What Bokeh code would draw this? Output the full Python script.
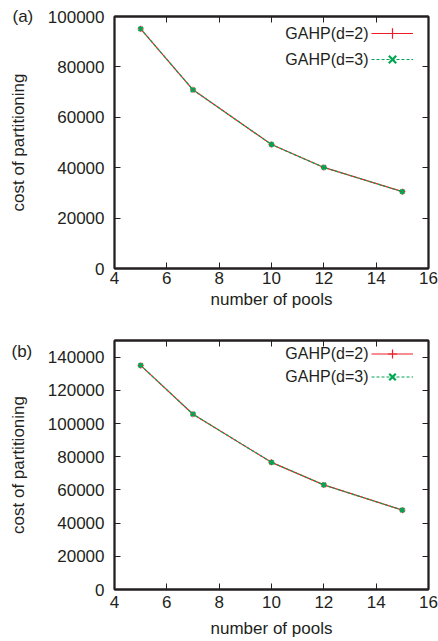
from bokeh.plotting import figure
from bokeh.layouts import column
from bokeh.models import (FixedTicker, NumeralTickFormatter, LinearAxis, Legend,
                          LegendItem, Label, Range1d)
from bokeh.embed import file_html
from bokeh.resources import INLINE

pools = [5, 7, 10, 12, 15]
a_d2 = [95100, 70900, 49200, 40100, 30500]
a_d3 = [95100, 70900, 49200, 40100, 30500]
b_d2 = [135000, 105600, 76600, 63000, 47800]
b_d3 = [135000, 105600, 76600, 63000, 47800]
x_ticks = [4, 6, 8, 10, 12, 14, 16]
a_y_ticks = [0, 20000, 40000, 60000, 80000, 100000]
b_y_ticks = [0, 20000, 40000, 60000, 80000, 100000, 120000, 140000]
series_names = ["GAHP(d=2)", "GAHP(d=3)"]

FONT = "Liberation Sans"
TXT = "#231f20"
RED = "#ee1c25"
GREEN = "#00a651"


def style_axis(ax, ticks, show_labels=True):
    ax.major_tick_in = 6
    ax.major_tick_out = 0
    ax.minor_tick_in = 0
    ax.minor_tick_out = 0
    ax.axis_line_color = "#231f20"
    ax.axis_line_width = 1.8
    ax.major_tick_line_color = "#231f20"
    ax.major_tick_line_width = 1
    ax.major_label_text_font = FONT
    ax.major_label_text_color = TXT
    ax.axis_label_text_font = FONT
    ax.axis_label_text_font_style = "normal"
    ax.axis_label_text_color = TXT
    ax.axis_label_text_font_size = "17px"
    if show_labels:
        ax.major_label_text_font_size = "17px"
    else:
        ax.major_label_text_font_size = "1px"
        ax.major_label_overrides = {t: "" for t in ticks}
        ax.major_label_standoff = 0


def make_panel(tag, y1, y2, ymax, yticks, height, borders, leg, tag_pos, xlab_stand):
    bl, br, bt, bb = borders
    p = figure(width=438, height=height, output_backend="svg", toolbar_location=None,
               x_range=Range1d(4, 16), y_range=Range1d(0, ymax),
               min_border_left=bl, min_border_right=br, min_border_top=bt,
               min_border_bottom=bb)
    p.xgrid.visible = False
    p.ygrid.visible = False
    p.outline_line_color = "#231f20"
    p.outline_line_width = 1.8

    # panel tag "(a)" / "(b)" drawn as the plot title, shifted left of the frame
    p.title.text = tag
    p.title.align = "left"
    p.title.offset = tag_pos[0]
    p.title.vertical_align = tag_pos[2]
    p.title.standoff = tag_pos[1]
    p.title.text_font = FONT
    p.title.text_font_size = "17px"
    p.title.text_font_style = "normal"
    p.title.text_color = TXT

    p.xaxis.ticker = FixedTicker(ticks=x_ticks)
    p.yaxis.ticker = FixedTicker(ticks=yticks)
    p.yaxis.formatter = NumeralTickFormatter(format="0")
    p.xaxis.axis_label = "number of pools"
    p.yaxis.axis_label = "cost of partitioning"
    for ax in p.xaxis:
        style_axis(ax, x_ticks)
    for ax in p.yaxis:
        style_axis(ax, yticks)
    p.xaxis.major_label_standoff = xlab_stand[0]
    p.xaxis.axis_label_standoff = xlab_stand[1]
    p.yaxis.major_label_standoff = 10
    p.yaxis.axis_label_standoff = 17

    top = LinearAxis(ticker=FixedTicker(ticks=x_ticks))
    right = LinearAxis(ticker=FixedTicker(ticks=yticks))
    style_axis(top, x_ticks, show_labels=False)
    style_axis(right, yticks, show_labels=False)
    p.add_layout(top, "above")
    p.add_layout(right, "right")

    l1 = p.line(pools, y1, line_color=RED, line_width=1.2)
    m1 = p.scatter(pools, y1, marker="cross", size=6, line_color=RED, line_width=1.2)
    l2 = p.line(pools, y2, line_color=GREEN, line_width=1.2, line_dash="3 2")
    m2 = p.scatter(pools, y2, marker="x", size=6, line_color=GREEN, line_width=2.2)

    loc, row_h, tx, ty = leg
    legend = Legend(items=[LegendItem(label=" ", renderers=[l1, m1]),
                           LegendItem(label=" ", renderers=[l2, m2])],
                    location=loc, glyph_width=42, glyph_height=row_h,
                    label_width=0, label_standoff=0, label_height=0,
                    label_text_font_size="1px",
                    padding=0, margin=0, spacing=0, border_line_color=None,
                    background_fill_alpha=0)
    p.add_layout(legend)

    for i, name in enumerate(series_names):
        p.add_layout(Label(x=tx, y=ty - row_h * i, x_units="screen",
                           y_units="screen", text=name, text_align="right",
                           text_baseline="middle", text_font=FONT, text_font_size="16px",
                           text_color=TXT))
    return p


pa = make_panel("(a)", a_d2, a_d3, 100000, a_y_ticks, 320, (114, 6, 16, 52),
                ((257, 196), 26, 254, 235), (-102, -22, "middle"), (3, 3))
pb = make_panel("(b)", b_d2, b_d3, 150000, b_y_ticks, 320, (111, 10, 20, 50),
                ((257, 201), 23, 254, 236), (-103, -40, "bottom"), (6, 8))

layout = column(pa, pb, spacing=0)
open("out.html", "w").write(file_html(layout, INLINE))
